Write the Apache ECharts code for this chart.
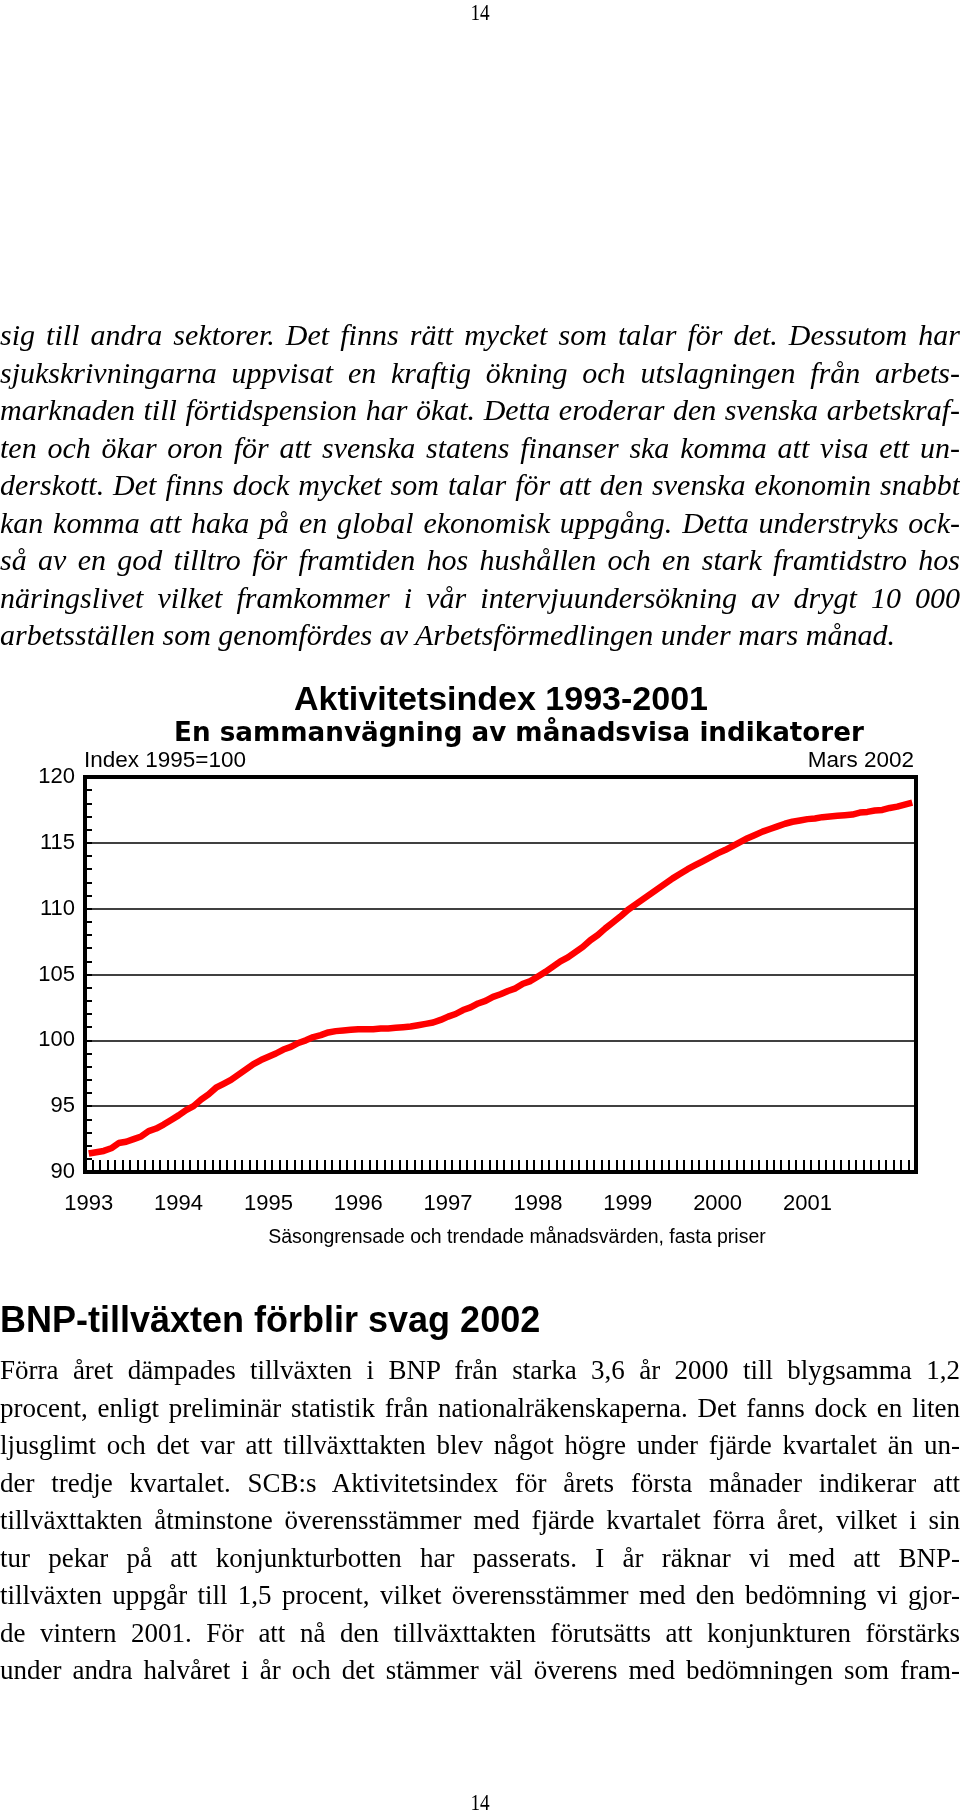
<!DOCTYPE html>
<html>
<head>
<meta charset="utf-8">
<script src="https://cdn.jsdelivr.net/npm/echarts@6/dist/echarts.min.js"></script>
<style>
  html, body { margin:0; padding:0; background:#fff; }
  #page { position:relative; width:960px; height:1814px; overflow:hidden; background:#fff; }
  #chart { position:absolute; left:0; top:0; width:960px; height:1814px; }
  .txt { position:absolute; left:0; width:960px; color:#000; z-index:2; }
  .ln { white-space:nowrap; text-align:justify; text-align-last:justify; }
  .ln.last { text-align-last:left; }
  #p1 { top:316px; font-family:"Liberation Serif", serif; font-style:italic; font-size:30px; line-height:37.55px; }
  #p2 { top:1352px; font-family:"Liberation Serif", serif; font-size:27px; line-height:37.55px; }
  #h2 { top:1300px; font-family:"Liberation Sans", Arial, sans-serif; font-weight:bold; font-size:36px; line-height:40px; }
  .pg { position:absolute; width:960px; text-align:center; font-family:"Liberation Serif", serif; font-size:24px; line-height:24px; z-index:2; }
  .pg span { display:inline-block; transform:scaleX(0.8); }
</style>
</head>
<body>
<div id="page">
  <div id="chart"></div>
  <div class="pg" style="top:0px;"><span>14</span></div>
  <div class="txt" id="p1">
    <div class="ln">sig till andra sektorer. Det finns rätt mycket som talar för det. Dessutom har</div>
    <div class="ln">sjukskrivningarna uppvisat en kraftig ökning och utslagningen från arbets-</div>
    <div class="ln">marknaden till förtidspension har ökat. Detta eroderar den svenska arbetskraf-</div>
    <div class="ln">ten och ökar oron för att svenska statens finanser ska komma att visa ett un-</div>
    <div class="ln">derskott. Det finns dock mycket som talar för att den svenska ekonomin snabbt</div>
    <div class="ln">kan komma att haka på en global ekonomisk uppgång. Detta understryks ock-</div>
    <div class="ln">så av en god tilltro för framtiden hos hushållen och en stark framtidstro hos</div>
    <div class="ln">näringslivet vilket framkommer i vår intervjuundersökning av drygt 10 000</div>
    <div class="ln last">arbetsställen som genomfördes av Arbetsförmedlingen under mars månad.</div>
  </div>
  <div class="txt" id="h2">BNP-tillväxten förblir svag 2002</div>
  <div class="txt" id="p2">
    <div class="ln">Förra året dämpades tillväxten i BNP från starka 3,6 år 2000 till blygsamma 1,2</div>
    <div class="ln">procent, enligt preliminär statistik från nationalräkenskaperna. Det fanns dock en liten</div>
    <div class="ln">ljusglimt och det var att tillväxttakten blev något högre under fjärde kvartalet än un-</div>
    <div class="ln">der tredje kvartalet. SCB:s Aktivitetsindex för årets första månader indikerar att</div>
    <div class="ln">tillväxttakten åtminstone överensstämmer med fjärde kvartalet förra året, vilket i sin</div>
    <div class="ln">tur pekar på att konjunkturbotten har passerats. I år räknar vi med att BNP-</div>
    <div class="ln">tillväxten uppgår till 1,5 procent, vilket överensstämmer med den bedömning vi gjor-</div>
    <div class="ln">de vintern 2001. För att nå den tillväxttakten förutsätts att konjunkturen förstärks</div>
    <div class="ln">under andra halvåret i år och det stämmer väl överens med bedömningen som fram-</div>
  </div>
  <div class="pg" style="top:1790px;"><span>14</span></div>
</div>
<script>
// ---- Data (Aktivitetsindex, 1995=100, monthly, Jan 1993 - Mar 2002) ----
const years = ['1993','1994','1995','1996','1997','1998','1999','2000','2001','2002'];
const monthNames = ['01','02','03','04','05','06','07','08','09','10','11','12'];
const v1993 = [91.4, 91.5, 91.6, 91.8, 92.2, 92.3, 92.5, 92.7, 93.1, 93.3, 93.6, 93.95];
const v1994 = [94.3, 94.7, 95.0, 95.5, 95.9, 96.4, 96.7, 97.0, 97.4, 97.8, 98.2, 98.5];
const v1995 = [98.75, 99.0, 99.3, 99.5, 99.8, 100.0, 100.25, 100.4, 100.6, 100.7, 100.75, 100.8];
const v1996 = [100.85, 100.85, 100.85, 100.9, 100.9, 100.95, 101.0, 101.05, 101.15, 101.25, 101.35, 101.55];
const v1997 = [101.8, 102.0, 102.3, 102.5, 102.8, 103.0, 103.3, 103.5, 103.75, 103.95, 104.3, 104.5];
const v1998 = [104.85, 105.2, 105.6, 106.0, 106.3, 106.7, 107.1, 107.6, 108.0, 108.5, 108.95, 109.4];
const v1999 = [109.9, 110.3, 110.7, 111.1, 111.5, 111.9, 112.3, 112.65, 113.0, 113.3, 113.6, 113.9];
const v2000 = [114.2, 114.45, 114.75, 115.05, 115.35, 115.6, 115.85, 116.05, 116.25, 116.45, 116.6, 116.7];
const v2001 = [116.8, 116.85, 116.95, 117.0, 117.05, 117.1, 117.15, 117.3, 117.35, 117.45, 117.5, 117.65];
const v2002 = [117.75, 117.9, 118.05];
const yearValues = [v1993, v1994, v1995, v1996, v1997, v1998, v1999, v2000, v2001, v2002];
const yTicks = [90, 95, 100, 105, 110, 115, 120];
const labeledYears = ['1993','1994','1995','1996','1997','1998','1999','2000','2001'];

// ---- Build category list and value series ----
const months = [];
const values = [];
yearValues.forEach((arr, yi) => {
  arr.forEach((v, mi) => {
    months.push(years[yi] + '-' + monthNames[mi]);
    values.push(v);
  });
});

const chart = echarts.init(document.getElementById('chart'), null, { renderer: 'canvas' });
const sans = '"Liberation Sans", Arial, sans-serif';

chart.setOption({
  animation: false,
  backgroundColor: '#fff',
  grid: {
    left: 85, right: 44, top: 777, height: 395,
    show: true, borderColor: '#000', borderWidth: 4, backgroundColor: 'transparent'
  },
  xAxis: {
    type: 'category',
    data: months,
    boundaryGap: true,
    axisLine: { lineStyle: { color: '#000', width: 4 } },
    axisTick: { show: true, interval: 0, inside: true, length: 12, lineStyle: { color: '#000', width: 2 } },
    axisLabel: {
      interval: (i, v) => v.slice(5) === '01' && labeledYears.indexOf(v.slice(0, 4)) >= 0,
      formatter: v => v.slice(0, 4),
      fontFamily: sans, fontSize: 22, color: '#000', margin: 21
    },
    splitLine: { show: false }
  },
  yAxis: {
    type: 'value',
    min: yTicks[0], max: yTicks[yTicks.length - 1], interval: 5,
    axisLine: { show: true, lineStyle: { color: '#000', width: 4 } },
    axisTick: { show: true, inside: true, length: 7, lineStyle: { color: '#000', width: 2 } },
    minorTick: { show: true, splitNumber: 5, length: 7, lineStyle: { color: '#000', width: 2 } },
    splitLine: { show: true, lineStyle: { color: '#000', width: 1.5 } },
    axisLabel: { fontFamily: sans, fontSize: 22, color: '#000', margin: 10, padding: [6, 0, 0, 0] }
  },
  series: [{
    type: 'line',
    data: values,
    showSymbol: false,
    symbol: 'none',
    lineStyle: { color: '#ff0000', width: 6.5 },
    z: 5
  }],
  graphic: [
    { type: 'text', x: 501, y: 701, style: { text: 'Aktivitetsindex 1993-2001', font: 'bold 34px ' + sans, fill: '#000', textAlign: 'center', textVerticalAlign: 'middle' } },
    { type: 'text', x: 519, y: 734, style: { text: 'En sammanvägning av månadsvisa indikatorer', font: 'bold 26.2px "DejaVu Sans", sans-serif', fill: '#000', textAlign: 'center', textVerticalAlign: 'middle' } },
    { type: 'text', x: 84, y: 761, style: { text: 'Index 1995=100', font: '22.5px ' + sans, fill: '#000', textAlign: 'left', textVerticalAlign: 'middle' } },
    { type: 'text', x: 914, y: 761, style: { text: 'Mars 2002', font: '22.5px ' + sans, fill: '#000', textAlign: 'right', textVerticalAlign: 'middle' } },
    { type: 'text', x: 517, y: 1238, style: { text: 'Säsongrensade och trendade månadsvärden, fasta priser', font: '19.5px ' + sans, fill: '#000', textAlign: 'center', textVerticalAlign: 'middle' } }
  ]
});
</script>
</body>
</html>
